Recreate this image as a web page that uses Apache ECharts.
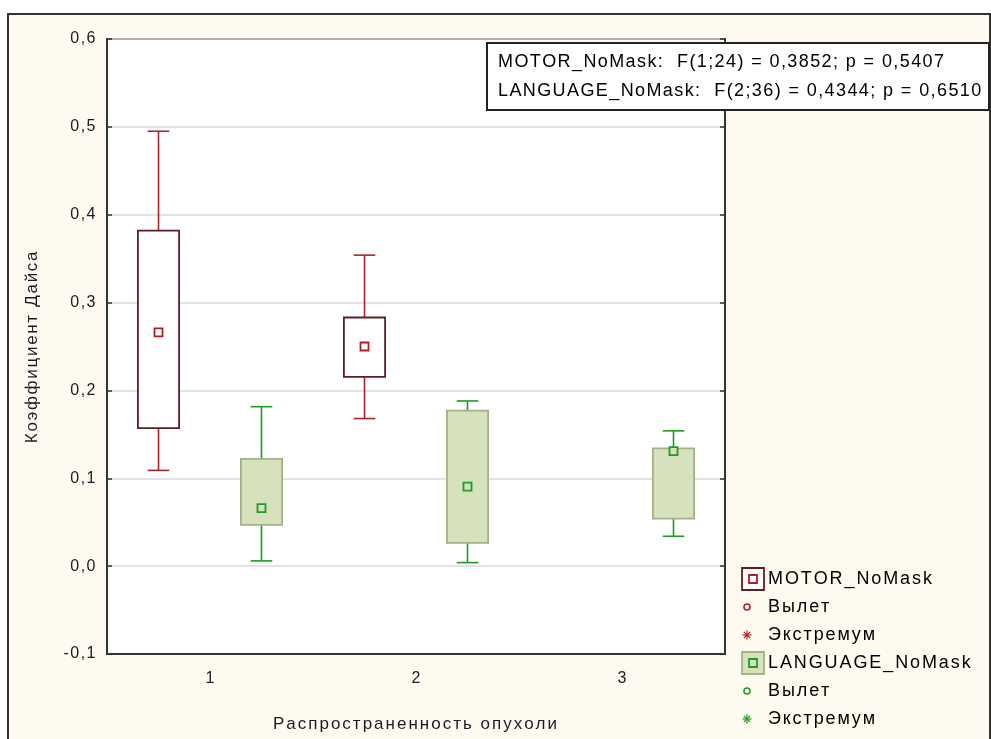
<!DOCTYPE html>
<html>
<head>
<meta charset="utf-8">
<script src="https://cdn.jsdelivr.net/npm/echarts@6/dist/echarts.min.js"></script>
<style>
  html, body { margin: 0; padding: 0; background: #ffffff; }
  #chart { width: 991px; height: 739px; }
</style>
</head>
<body>
<div id="chart"></div>
<script>
// Groups on the x axis (tumour spread)
const categories = ['1', '2', '3'];

// Box statistics per group: [whisker low, box low, centre, box high, whisker high]
const motorStats = [
  [0.109, 0.157, 0.266, 0.382, 0.495],
  [0.168, 0.2155, 0.250, 0.283, 0.354],
  null
];
const languageStats = [
  [0.006, 0.047, 0.066, 0.122, 0.1815],
  [0.004, 0.0265, 0.0905, 0.177, 0.188],
  [0.034, 0.054, 0.131, 0.134, 0.154]
];

// Y axis range and step
const yMin = -0.1;
const yMax = 0.6;
const yStep = 0.1;

// ANOVA summary lines
const statLines = [
  'MOTOR_NoMask:  F(1;24) = 0,3852; p = 0,5407',
  'LANGUAGE_NoMask:  F(2;36) = 0,4344; p = 0,6510'
];

// Legend entries
const motorName = 'MOTOR_NoMask';
const languageName = 'LANGUAGE_NoMask';
const outlierName = 'Вылет';
const extremeName = 'Экстремум';

const xTitle = 'Распространенность опухоли';
const yTitle = 'Коэффициент Дайса';

const fontFamily = '"Liberation Sans", Arial, sans-serif';
const textColor = '#181a26';

// Wide, letter-spaced text: every character becomes a rich-text token with right padding
function spaced(text, key) {
  return text.split('').map(c => '{' + key + '|' + c + '}').join('');
}
function spacedStyle(size, gap) {
  return { fontSize: size, fontFamily: fontFamily, color: textColor, padding: [0, gap, 0, 0] };
}

function toRows(stats) {
  const rows = [];
  stats.forEach((s, i) => { if (s) rows.push([i].concat(s)); });
  return rows;
}

function makeBoxRenderer(style) {
  return function (params, api) {
    const idx = api.value(0);
    const band = api.size([1, 0])[0];
    const cx = api.coord([idx, 0])[0] + band * style.offset;
    const y = k => api.coord([idx, api.value(k)])[1];
    const wLo = y(1), bLo = y(2), mid = y(3), bHi = y(4), wHi = y(5);
    const bw = band * 0.2;
    const cw = band * 0.105;
    const ms = 8;
    const ws = { stroke: style.whisker, lineWidth: 1.6 };
    return {
      type: 'group',
      children: [
        { type: 'line', shape: { x1: cx, y1: wHi, x2: cx, y2: bHi }, style: ws },
        { type: 'line', shape: { x1: cx, y1: bLo, x2: cx, y2: wLo }, style: ws },
        { type: 'line', shape: { x1: cx - cw / 2, y1: wHi, x2: cx + cw / 2, y2: wHi }, style: ws },
        { type: 'line', shape: { x1: cx - cw / 2, y1: wLo, x2: cx + cw / 2, y2: wLo }, style: ws },
        { type: 'rect', shape: { x: cx - bw / 2, y: bHi, width: bw, height: bLo - bHi }, style: { fill: style.fill, stroke: style.border, lineWidth: 1.8 } },
        { type: 'rect', shape: { x: cx - ms / 2, y: mid - ms / 2, width: ms, height: ms }, style: { fill: style.markerFill, stroke: style.marker, lineWidth: 1.8 } }
      ]
    };
  };
}

const motorStyle = { offset: -0.25, whisker: '#a82428', border: '#5e1f24', fill: '#ffffff', marker: '#b01e22', markerFill: '#ffffff' };
const languageStyle = { offset: 0.25, whisker: '#1f9a22', border: '#a2b285', fill: '#d6e2bd', marker: '#1f9a22', markerFill: '#d6e2bd' };

// Legend graphics (drawn manually so the repeated entry names are kept)
const legendX = 742;
const legendTextX = 768;
const legendY0 = 579;
const legendStep = 28;
const legendRich = { l: spacedStyle(18, 1.9) };
const topZ = 100;

function legendText(x, y, str) {
  return { type: 'text', z: topZ, x: x, y: y, style: { text: spaced(str, 'l'), rich: legendRich, verticalAlign: 'middle' } };
}

function asterisk(cx, cy, r, color) {
  const segs = [];
  for (let a = 0; a < 4; a++) {
    const t = a * Math.PI / 4;
    segs.push({
      type: 'line', z: topZ,
      shape: { x1: cx - r * Math.cos(t), y1: cy - r * Math.sin(t), x2: cx + r * Math.cos(t), y2: cy + r * Math.sin(t) },
      style: { stroke: color, lineWidth: 1.2 }
    });
  }
  return segs;
}

function legendRows(rowStart, name, st) {
  const y1 = legendY0 + legendStep * rowStart;
  const y2 = y1 + legendStep;
  const y3 = y2 + legendStep;
  const icx = legendX + 11;
  const items = [
    { type: 'rect', z: topZ, shape: { x: legendX, y: y1 - 11, width: 22, height: 22 }, style: { fill: st.fill, stroke: st.border, lineWidth: 1.8 } },
    { type: 'rect', z: topZ, shape: { x: icx - 4, y: y1 - 4, width: 8, height: 8 }, style: { fill: st.markerFill, stroke: st.marker, lineWidth: 1.8 } },
    legendText(legendTextX, y1, name),
    { type: 'circle', z: topZ, shape: { cx: legendX + 5, cy: y2, r: 3 }, style: { fill: 'none', stroke: st.marker, lineWidth: 1.6 } },
    legendText(legendTextX, y2, outlierName),
    legendText(legendTextX, y3, extremeName)
  ];
  return items.concat(asterisk(legendX + 5, y3, 4.5, st.marker));
}

const statRich = { a: spacedStyle(18, 1.4) };

const chart = echarts.init(document.getElementById('chart'), null, { renderer: 'canvas' });

const yLabel = v => v.toFixed(1).replace('.', ',');

chart.setOption({
  animation: false,
  backgroundColor: '#ffffff',
  textStyle: { fontFamily: fontFamily },
  grid: {
    left: 107, top: 39, width: 618, height: 615,
    show: true, backgroundColor: '#ffffff', borderColor: '#333333', borderWidth: 2
  },
  xAxis: {
    type: 'category',
    data: categories,
    boundaryGap: true,
    name: spaced(xTitle, 'n'),
    nameLocation: 'middle',
    nameGap: 62,
    nameTextStyle: { rich: { n: spacedStyle(17, 2) } },
    axisLine: { onZero: false, lineStyle: { color: '#333333', width: 2 } },
    axisTick: { inside: true, alignWithLabel: true, length: 5, lineStyle: { color: '#333333', width: 1.5 } },
    axisLabel: { fontSize: 16, color: textColor, margin: 17, fontFamily: fontFamily },
    splitLine: { show: false }
  },
  yAxis: [
    {
      type: 'value',
      min: yMin, max: yMax, interval: yStep,
      name: spaced(yTitle, 'n'),
      nameLocation: 'middle',
      nameGap: 66,
      nameRotate: 90,
      nameTextStyle: { rich: { n: spacedStyle(17, 1.7) } },
      axisLine: { show: true, onZero: false, lineStyle: { color: '#333333', width: 2 } },
      axisTick: { show: true, inside: true, length: 5, lineStyle: { color: '#333333', width: 1.5 } },
      axisLabel: { formatter: v => spaced(yLabel(v), 't'), rich: { t: spacedStyle(16, 1.5) }, margin: 10 },
      splitLine: { show: true, lineStyle: { color: '#dadada', width: 1.5 } }
    },
    {
      type: 'value',
      position: 'right',
      min: yMin, max: yMax, interval: yStep,
      axisLine: { show: true, onZero: false, lineStyle: { color: '#333333', width: 2 } },
      axisTick: { show: true, inside: true, length: 5, lineStyle: { color: '#333333', width: 1.5 } },
      axisLabel: { show: false },
      splitLine: { show: false }
    }
  ],
  series: [
    {
      name: motorName,
      type: 'custom',
      renderItem: makeBoxRenderer(motorStyle),
      encode: { x: 0, y: [1, 2, 3, 4, 5] },
      data: toRows(motorStats),
      z: 5
    },
    {
      name: languageName,
      type: 'custom',
      renderItem: makeBoxRenderer(languageStyle),
      encode: { x: 0, y: [1, 2, 3, 4, 5] },
      data: toRows(languageStats),
      z: 5
    }
  ],
  graphic: [
    {
      type: 'rect', z: -10, silent: true,
      shape: { x: 8, y: 14, width: 982, height: 740 },
      style: { fill: '#fffaf0', stroke: '#333333', lineWidth: 2 }
    },
    { type: 'rect', z: topZ, shape: { x: 487, y: 43, width: 502, height: 67 }, style: { fill: '#ffffff', stroke: '#222222', lineWidth: 2 } },
    { type: 'text', z: topZ, x: 498, y: 62, style: { text: spaced(statLines[0], 'a'), rich: statRich, verticalAlign: 'middle' } },
    { type: 'text', z: topZ, x: 498, y: 91, style: { text: spaced(statLines[1], 'a'), rich: statRich, verticalAlign: 'middle' } }
  ].concat(legendRows(0, motorName, motorStyle), legendRows(3, languageName, languageStyle))
});
</script>
</body>
</html>
